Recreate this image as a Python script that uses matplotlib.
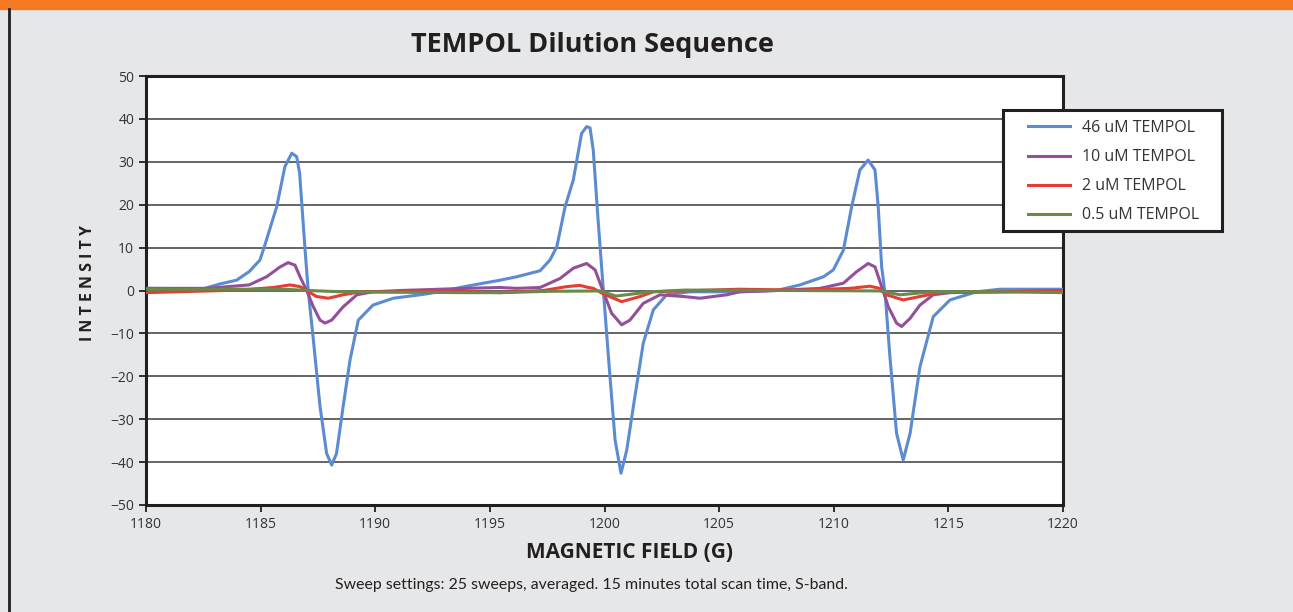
import matplotlib.pyplot as plt
import matplotlib.patches as patches

# 46 uM TEMPOL
field_46 = [1180, 1182.5, 1183.2, 1183.95, 1184.5, 1184.97, 1185.15, 1185.7, 1186.06, 1186.36, 1186.57,
            1186.7, 1186.94, 1187.08, 1187.3, 1187.59, 1187.88, 1188.1, 1188.31, 1188.6, 1188.9, 1189.26,
            1189.9, 1190.79, 1192.1, 1192.8, 1193.98, 1195.44, 1196.17, 1197.19, 1197.62, 1197.92,
            1198.28, 1198.64, 1199.0, 1199.22, 1199.37, 1199.51, 1199.73, 1199.95, 1200.17, 1200.46,
            1200.72, 1200.97, 1201.26, 1201.69, 1202.13, 1202.71, 1203.73, 1205.9, 1207.5, 1208.53,
            1209.55, 1209.98, 1210.42, 1210.78, 1211.14, 1211.5, 1211.8, 1211.94, 1212.09, 1212.24,
            1212.45, 1212.74, 1213.03, 1213.33, 1213.76, 1214.34, 1215.07, 1216.23, 1217.25, 1220]
int_46 = [0.5, 0.4, 1.5, 2.4, 4.4, 7.1, 10, 19.5, 28.9, 32, 31.2,
          27.4, 9.4, -0.3, -11.5, -27, -38, -40.7, -38, -27, -16.2, -6.9,
          -3.4, -1.8, -0.9, -0.3, 1.0, 2.4, 3.2, 4.6, 7.1, 10.2,
          19.5, 25.8, 36.6, 38.2, 37.9, 32.7, 15.7, 0.1, -15.4, -34.8,
          -42.6, -37.2, -27, -12.3, -4.5, -1.0, -0.3, -0.3, 0, 1.3,
          3.2, 4.8, 9.4, 19.5, 28.1, 30.4, 28.1, 19.5, 5.5, -0.7,
          -15.4, -33.3, -39.5, -33.3, -17.8, -6.1, -2.2, -0.3, 0.3, 0.3]

# 10 uM TEMPOL
field_10 = [1180, 1182.65, 1184.5, 1185.26, 1185.85, 1186.2, 1186.5, 1186.72, 1187.0, 1187.3, 1187.59,
            1187.81, 1188.1, 1188.6, 1189.2, 1189.9, 1191.1, 1193.98, 1195.44, 1196.17, 1197.19,
            1198.06, 1198.64, 1199.22, 1199.59, 1199.95, 1200.31, 1200.75, 1201.11, 1201.69, 1202.42,
            1203.44, 1204.17, 1205.33, 1205.9, 1207.5, 1209.4, 1210.42, 1211.0, 1211.5, 1211.8,
            1212.09, 1212.38, 1212.74, 1212.96, 1213.33, 1213.76, 1214.34, 1215.07, 1217.25, 1220]
int_10 = [0.5, 0.5, 1.3, 3.2, 5.5, 6.5, 5.9, 3.2, 0.1, -3.8, -6.9,
          -7.6, -6.9, -3.8, -1.0, -0.3, 0, 0.5, 0.7, 0.5, 0.7,
          2.8, 5.2, 6.3, 4.8, -0.3, -5.3, -8.0, -6.9, -3.0, -1.0,
          -1.4, -1.8, -1.0, -0.3, 0, 0.5, 1.7, 4.4, 6.3, 5.5,
          0.9, -3.8, -7.6, -8.4, -6.5, -3.4, -1.0, -0.5, -0.3, 0]

# 2 uM TEMPOL
field_2 = [1180, 1184.1, 1185.55, 1186.28, 1186.72, 1187.0, 1187.44, 1187.95, 1188.6, 1189.33, 1192.8,
           1193.98, 1195.44, 1197.33, 1198.35, 1198.93, 1199.22, 1199.51, 1199.95, 1200.75, 1201.55,
           1202.13, 1205.9, 1208.53, 1210.71, 1211.58, 1212.0, 1212.3, 1213.03, 1213.76, 1214.63, 1220]
int_2 = [-0.5, 0.1, 0.7, 1.3, 0.9, 0, -1.4, -1.8, -1.0, -0.3, -0.3,
         -0.3, -0.5, 0, 0.9, 1.2, 0.8, 0.5, -0.8, -2.6, -1.4,
         -0.3, 0.3, 0.1, 0.5, 1.0, 0.5, -1.0, -2.2, -1.4, -0.5, -0.1]

# 0.5 uM TEMPOL
field_05 = [1180, 1186, 1187.1, 1188.5, 1193.9, 1195.5, 1197.5, 1199.8, 1200.5, 1202.0, 1203.5,
            1208, 1212.0, 1212.9, 1214.3, 1217, 1220]
int_05 = [0.3, 0.3, 0, -0.3, -0.5, -0.5, -0.2, -0.1, -1.3, -0.3, 0.1,
          0, -0.1, -1.0, -0.3, -0.3, -0.5]

labels = ["46 uM TEMPOL", "10 uM TEMPOL", "2 uM TEMPOL", "0.5 uM TEMPOL"]
colors = ["#5b8bd0", "#944f9b", "#e63c35", "#6a8a48"]

bg = "#e6e7e8"
W, H = 1293, 612
fig = plt.figure(figsize=(W / 100, H / 100), dpi=100, facecolor=bg)

# orange top band and left rule
fig.patches.append(patches.Rectangle((0, 1 - 9 / H), 1, 9 / H, transform=fig.transFigure,
                                     color="#f47920", zorder=0))
fig.add_artist(plt.Line2D([8.5 / W, 8.5 / W], [0, 1 - 9 / H], transform=fig.transFigure,
                          color="#231f20", lw=2))

ax = fig.add_axes([146 / W, 1 - 505 / H, (1063 - 146) / W, (505 - 76) / H])
ax.set_facecolor("white")

series = [(field_46, int_46), (field_10, int_10), (field_2, int_2), (field_05, int_05)]
for (x, y), lab, c in zip(series, labels, colors):
    ax.plot(x, y, color=c, lw=2.2, label=lab, zorder=3, solid_joinstyle="round")

ax.set_xlim(1180, 1220)
ax.set_ylim(-50, 50)
ax.set_xticks(range(1180, 1221, 5))
ax.set_yticks(range(-50, 51, 10))
ax.yaxis.grid(True, color="#3a3a3a", lw=1.1, zorder=1)
ax.set_axisbelow(True)
for s in ax.spines.values():
    s.set_color("#231f20")
    s.set_linewidth(2.2)
ax.tick_params(axis="both", direction="out", length=5, width=1.3, color="#231f20",
               labelsize=10, labelcolor="#333333")
for t in ax.get_xticklabels() + ax.get_yticklabels():
    t.set_fontfamily("Open Sans")

fig.text(592 / W, 1 - 45 / H, "TEMPOL Dilution Sequence", ha="center", va="center",
         fontsize=19.5, fontweight="bold", family="Open Sans", color="#231f20")
fig.text(88 / W, 1 - 283 / H, "I N T E N S I T Y", rotation=90, ha="center", va="center",
         fontsize=11.5, fontweight="bold", family="Open Sans", color="#231f20")
fig.text(630 / W, 1 - 552 / H, "MAGNETIC FIELD (G)", ha="center", va="center",
         fontsize=15, fontweight="bold", family="Open Sans", color="#231f20")
fig.text(591 / W, 1 - 585 / H,
         "Sweep settings: 25 sweeps, averaged. 15 minutes total scan time, S-band.",
         ha="center", va="center", fontsize=11.4, family="Lato", color="#231f20")

# legend box drawn separately so its padding matches
fig.patches.append(patches.Rectangle((1003 / W, 1 - 231 / H), 219 / W, 121 / H,
                                     transform=fig.transFigure, facecolor="white",
                                     edgecolor="#231f20", lw=2.2, zorder=4))
leg = fig.legend(loc="upper left", bbox_to_anchor=(1028 / W, 1 - 120 / H),
                 frameon=False, handlelength=2.63, handletextpad=0.75,
                 labelspacing=0.82, borderpad=0, borderaxespad=0,
                 prop={"family": "Open Sans", "size": 11.5})
leg.set_zorder(5)
for t in leg.get_texts():
    t.set_color("#333333")

fig.savefig("out.png", dpi=100, facecolor=bg)
